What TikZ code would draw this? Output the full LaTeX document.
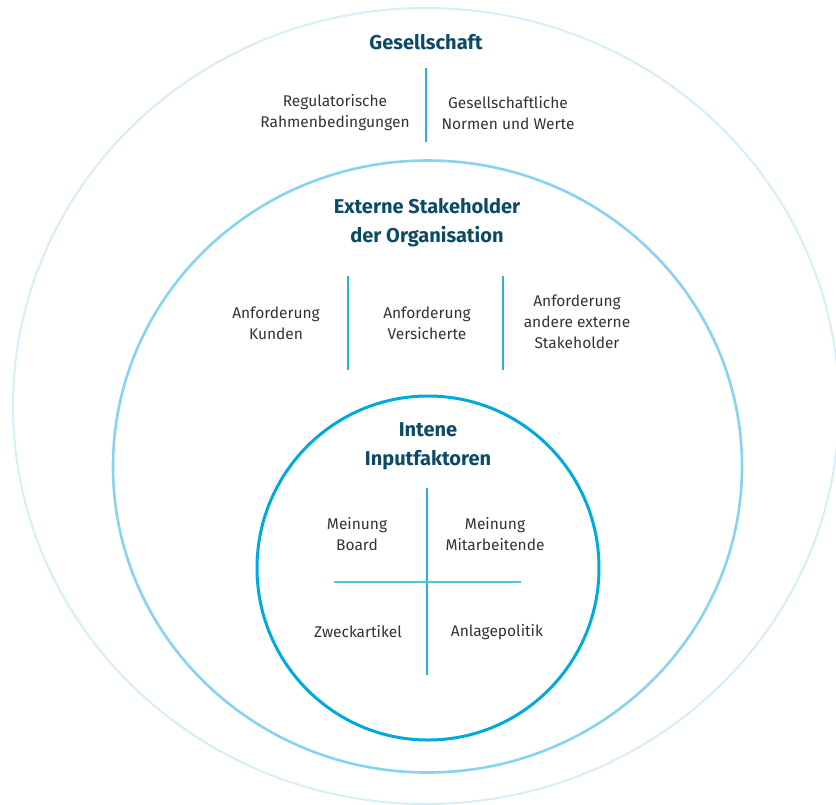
\documentclass[tikz,border=0pt]{standalone}
\usepackage{fontspec}
\setmainfont{Fira Sans}
\usepackage{xcolor}
\usepackage{tikz}
\usetikzlibrary{shapes.geometric}
\usetikzlibrary{positioning}

\definecolor{ringouter}{HTML}{D5EEF8}
\definecolor{ringmiddle}{HTML}{88D3EE}
\definecolor{ringinner}{HTML}{00AADD}
\definecolor{splitblue}{HTML}{27B2E0}
\definecolor{headblue}{HTML}{0C4A66}
\definecolor{entrygray}{HTML}{333333}

\begin{document}
\begin{tikzpicture}[x=1pt, y=-1pt,
  ring/.style={ellipse, inner sep=0pt, outer sep=0pt},
  heading/.style={font=\fontsize{20}{29}\selectfont\bfseries, text=headblue, align=center},
  entry/.style={font=\fontsize{15.5}{21}\selectfont, text=entrygray, align=center},
  split/.style={draw=splitblue, line width=1.2pt}]
\useasboundingbox (0,0) rectangle (836,804);

% rings
\node [ring, draw=ringouter, line width=2pt, minimum width=826pt, minimum height=796pt] (G) at (426, 406) {};
\node [ring, draw=ringmiddle, line width=2.6pt, minimum width=629pt, minimum height=612pt] (E) at (427.5, 466.5) {};
\node [ring, draw=ringinner, line width=3pt, minimum width=342pt, minimum height=344pt] (I) at (428, 568) {};

% Gesellschaft
\node [heading] (Gtitle) at (426, 42) {Gesellschaft};
\node [entry] (Greg) at (335, 113) {Regulatorische\\Rahmenbedingungen};
\node [entry] (Gnorm) at (508, 113) {Gesellschaftliche\\Normen und Werte};
\coordinate (g1a) at (426, 68);
\coordinate (g1b) at (426, 142);
\draw [split] (g1a) -- (g1b);

% externe Stakeholder
\node [heading] (Etitle) at (427, 223) {Externe Stakeholder\\der Organisation};
\node [entry] (Ekund) at (276, 323) {Anforderung\\Kunden};
\node [entry] (Evers) at (427, 323) {Anforderung\\Versicherte};
\node [entry] (Eand) at (577, 322) {Anforderung\\andere externe\\Stakeholder};
\coordinate (e1a) at (348, 276);
\coordinate (e1b) at (348, 370);
\coordinate (e2a) at (503, 276);
\coordinate (e2b) at (503, 370);
\draw [split] (e1a) -- (e1b);
\draw [split] (e2a) -- (e2b);

% interne Inputfaktoren
\node [heading] (Ititle) at (428, 446) {Intene\\Inputfaktoren};
\node [entry] (Iboard) at (357, 534) {Meinung\\Board};
\node [entry] (Imit) at (495, 534) {Meinung\\Mitarbeitende};
\node [entry] (Izweck) at (358, 632) {Zweckartikel};
\node [entry] (Ianl) at (497, 632) {Anlagepolitik};
\coordinate (i1a) at (427, 488);
\coordinate (i1b) at (427, 675);
\coordinate (i2a) at (334, 582);
\coordinate (i2b) at (521, 582);
\draw [split] (i1a) -- (i1b);
\draw [split, draw=splitblue!80, line width=2pt] (i2a) -- (i2b);
\end{tikzpicture}
\end{document}
